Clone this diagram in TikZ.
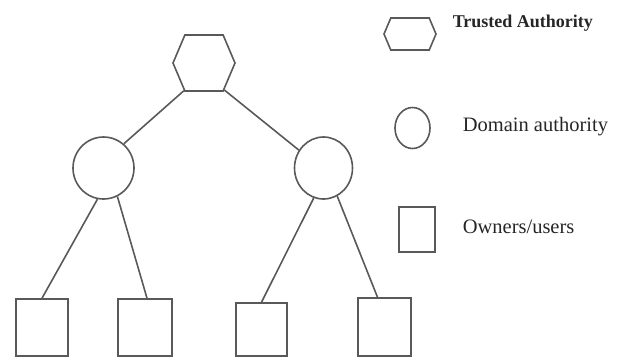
\documentclass[tikz,border=0pt]{standalone}
\usepackage{fontspec}
\setmainfont{Liberation Serif}
\usetikzlibrary{shapes.symbols,shapes.geometric}

\begin{document}
\begin{tikzpicture}[x=1pt,y=-1pt,line width=1.6pt,draw=black!65,
  hexa/.style={signal,signal to=east and west,signal pointer angle=134,draw,inner sep=0pt},
  dom/.style={ellipse,draw,inner sep=0pt},
  own/.style={rectangle,draw,inner sep=0pt},
  lbl/.style={anchor=base west,inner sep=0pt,text=black!85}]
\newcommand{\lfont}{\fontsize{20.5}{24}\selectfont}
\useasboundingbox (0,0) rectangle (618,357);

\node[hexa,minimum width=62pt,minimum height=56pt] (ta) at (204,63) {};
\node[dom,minimum width=61pt,minimum height=62pt] (da1) at (103.5,168) {};
\node[dom,minimum width=58pt,minimum height=62pt] (da2) at (323.5,168) {};
\node[own,minimum width=52pt,minimum height=57pt] (ou1) at (42,327.5) {};
\node[own,minimum width=54pt,minimum height=57pt] (ou2) at (145,327.5) {};
\node[own,minimum width=51pt,minimum height=53pt] (ou3) at (261.5,329.5) {};
\node[own,minimum width=53pt,minimum height=58pt] (ou4) at (384.5,327) {};

\draw (ta.-126) -- (da1.50);
\draw (ta.-53) -- (da2.144);
\draw (da1.-101) -- (ou1.north);
\draw (da1.-64) -- ([xshift=2pt]ou2.north);
\draw (da2.-108) -- (ou3.north);
\draw (da2.-64) -- ([xshift=-7pt]ou4.north);

\node[hexa,minimum width=52pt,minimum height=32pt] (kta) at (410,34) {};
\node[dom,minimum width=35pt,minimum height=41pt] (kda) at (412.5,128) {};
\node[own,minimum width=36pt,minimum height=45pt] (kou) at (417,229.5) {};

\node[lbl,font=\fontsize{18}{22}\selectfont\bfseries] (tta) at (452,27) {Trusted Authority};
\node[lbl,font=\lfont] (tda) at (462,131) {Domain authority};
\node[lbl,font=\lfont] (tou) at (462,233) {Owners/users};
\end{tikzpicture}
\end{document}
